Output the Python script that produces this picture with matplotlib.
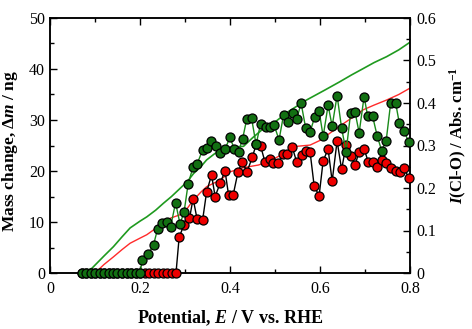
import matplotlib
matplotlib.use("Agg")
import matplotlib.pyplot as plt
from matplotlib.ticker import MultipleLocator

plt.rcParams['font.family'] = ['Liberation Serif', 'DejaVu Serif']
plt.rcParams['mathtext.fontset'] = 'custom'
plt.rcParams['mathtext.rm'] = 'Liberation Serif:bold'
plt.rcParams['mathtext.it'] = 'Liberation Serif:italic:bold'
plt.rcParams['mathtext.bf'] = 'Liberation Serif:bold'

# Mass change points (left axis, ng)
E_green = [0.07, 0.08, 0.09, 0.10, 0.11, 0.12, 0.13, 0.14, 0.15, 0.16, 0.17, 0.18, 0.19, 0.20,
           0.205, 0.218, 0.23, 0.239, 0.248, 0.259, 0.268, 0.279, 0.289, 0.298,
           0.307, 0.318, 0.327, 0.339, 0.348, 0.358, 0.368, 0.378, 0.389, 0.40, 0.409, 0.419,
           0.428, 0.437, 0.448, 0.458, 0.468, 0.479, 0.489, 0.498, 0.509, 0.519, 0.528, 0.539,
           0.548, 0.558, 0.568, 0.578, 0.588, 0.598, 0.607, 0.618, 0.627, 0.638, 0.648, 0.658,
           0.668, 0.678, 0.687, 0.698, 0.706, 0.717, 0.727, 0.737, 0.747, 0.757, 0.768, 0.776,
           0.787, 0.797]
m_green = [0, 0, 0, 0, 0, 0, 0, 0, 0, 0, 0, 0, 0, 0,
           2.5, 3.7, 5.5, 8.6, 9.9, 10.0, 9.0, 13.8, 9.6, 12.0,
           17.5, 20.8, 21.4, 24.1, 24.6, 25.9, 25.0, 23.6, 24.3, 26.6, 24.4, 23.8,
           26.3, 30.1, 30.3, 25.2, 29.3, 28.7, 28.7, 29.0, 26.1, 31.0, 29.7, 31.3,
           30.1, 33.3, 28.5, 27.7, 30.5, 31.8, 26.8, 32.9, 28.8, 34.8, 28.4, 23.8,
           31.3, 31.5, 27.5, 34.6, 30.7, 30.7, 26.9, 24.0, 25.9, 33.3, 33.4, 29.5,
           27.8, 25.7]

E_red = [0.07, 0.08, 0.09, 0.10, 0.11, 0.12, 0.13, 0.14, 0.15, 0.16, 0.17, 0.18, 0.19, 0.20,
         0.21, 0.22, 0.23, 0.24, 0.25, 0.26, 0.27, 0.28,
         0.287, 0.298, 0.31, 0.318, 0.327, 0.339, 0.348, 0.359, 0.367, 0.378, 0.389, 0.397,
         0.407, 0.418, 0.427, 0.438, 0.45, 0.458, 0.468, 0.478, 0.489, 0.496, 0.507, 0.517,
         0.527, 0.538, 0.548, 0.559, 0.568, 0.578, 0.587, 0.598, 0.607, 0.618, 0.627, 0.638,
         0.648, 0.658, 0.668, 0.678, 0.687, 0.698, 0.707, 0.717, 0.727, 0.737, 0.747, 0.757,
         0.768, 0.778, 0.787, 0.797]
m_red = [0, 0, 0, 0, 0, 0, 0, 0, 0, 0, 0, 0, 0, 0,
         0, 0, 0, 0, 0, 0, 0, 0,
         7.0, 9.5, 10.7, 14.6, 10.5, 10.3, 15.9, 19.2, 15.0, 17.6, 20.0, 15.2,
         15.3, 19.9, 21.7, 19.9, 22.8, 25.2, 24.9, 21.7, 22.4, 21.5, 21.5, 23.3,
         23.3, 24.8, 21.8, 23.1, 24.0, 23.7, 17.1, 15.1, 22.0, 24.3, 18.0, 25.9,
         20.3, 25.1, 22.9, 21.2, 23.8, 24.4, 21.8, 21.8, 20.7, 22.2, 21.5, 20.5,
         20.0, 19.9, 20.5, 18.7]

# I(Cl-O) traces (right axis, Abs. cm^-1)
E_line_green = [0.07, 0.093, 0.12, 0.141, 0.16, 0.178, 0.20, 0.215, 0.235, 0.252, 0.27, 0.289,
                0.305, 0.319, 0.335, 0.348, 0.365, 0.378, 0.40, 0.43, 0.45, 0.47, 0.496,
                0.53, 0.57, 0.61, 0.644, 0.67, 0.696, 0.72, 0.748, 0.775, 0.80]
I_green = [0.0, 0.011, 0.04, 0.062, 0.085, 0.106, 0.122, 0.132, 0.148, 0.164, 0.18, 0.199,
           0.215, 0.234, 0.25, 0.266, 0.28, 0.289, 0.296, 0.298, 0.318, 0.336, 0.352,
           0.38, 0.407, 0.43, 0.45, 0.466, 0.481, 0.495, 0.509, 0.525, 0.543]

E_line_red = [0.10, 0.12, 0.141, 0.16, 0.178, 0.20, 0.215, 0.235, 0.252, 0.27, 0.289, 0.305,
              0.319, 0.335, 0.348, 0.365, 0.378, 0.40, 0.43, 0.463, 0.474, 0.50, 0.525,
              0.548, 0.578, 0.60, 0.622, 0.65, 0.675, 0.696, 0.72, 0.748, 0.775, 0.80]
I_red = [0.0, 0.02, 0.038, 0.055, 0.07, 0.082, 0.09, 0.105, 0.121, 0.13, 0.137, 0.152,
         0.172, 0.19, 0.203, 0.212, 0.218, 0.238, 0.248, 0.254, 0.258, 0.27, 0.284,
         0.298, 0.301, 0.312, 0.329, 0.35, 0.368, 0.384, 0.395, 0.407, 0.42, 0.435]

fig = plt.figure(figsize=(4.72, 3.29), dpi=100)
ax = fig.add_axes([50/472, 1-273/329, 360/472, 255/329])
ax2 = ax.twinx()

ax2.plot(E_line_red, I_red, color='#ff2a2a', lw=1.0, zorder=1)
ax2.plot(E_line_green, I_green, color='#1f9a1f', lw=1.2, zorder=1)

ax.set_zorder(ax2.get_zorder() + 1)
ax.patch.set_visible(False)

ax.plot(E_red, m_red, color='black', lw=1.0, marker='o', ms=6.5,
        mfc='#ee0000', mec='black', mew=0.9, zorder=3, clip_on=False)
ax.plot(E_green, m_green, color='#1a8a1a', lw=1.0, marker='o', ms=6.5,
        mfc='#127012', mec='black', mew=0.9, zorder=4, clip_on=False)

ax.set_xlim(0, 0.8)
ax.set_ylim(0, 50)
ax2.set_ylim(0, 0.6)

ax.xaxis.set_major_locator(MultipleLocator(0.2))
ax.xaxis.set_minor_locator(MultipleLocator(0.1))
ax.yaxis.set_major_locator(MultipleLocator(10))
ax.yaxis.set_minor_locator(MultipleLocator(5))
ax2.yaxis.set_major_locator(MultipleLocator(0.1))
ax2.yaxis.set_minor_locator(MultipleLocator(0.05))

ax.xaxis.set_major_formatter(plt.FuncFormatter(lambda v, p: '0' if abs(v) < 1e-9 else f'{v:.1f}'))
ax2.yaxis.set_major_formatter(plt.FuncFormatter(lambda v, p: '0' if abs(v) < 1e-9 else f'{v:.1f}'))

ax.tick_params(axis='both', which='both', direction='in', top=True, right=False,
               labelsize=11.5, width=1.0)
ax.tick_params(which='major', length=5)
ax.tick_params(which='minor', length=3)
ax.tick_params(axis='x', pad=6)
ax.tick_params(axis='y', pad=3.5)
ax2.tick_params(axis='y', which='both', direction='in', labelsize=11.5, width=1.0, pad=4.3)
ax2.tick_params(which='major', length=5)
ax2.tick_params(which='minor', length=3)

for a in (ax, ax2):
    for s in a.spines.values():
        s.set_linewidth(1.1)

ax.set_xlabel('Potential, $E$ / V vs. RHE', fontsize=13, fontweight='bold')
ax.set_ylabel('Mass change, Δ$m$ / ng', fontsize=12.5, fontweight='bold')
ax2.set_ylabel('$I$(Cl-O) / Abs. cm$^{-1}$', fontsize=12, fontweight='bold')
ax.xaxis.set_label_coords(0.501, -0.14)
ax.yaxis.set_label_coords(-0.083, 0.48)
ax2.yaxis.set_label_coords(1.106, 0.54)

fig.savefig('out.png', dpi=100)
